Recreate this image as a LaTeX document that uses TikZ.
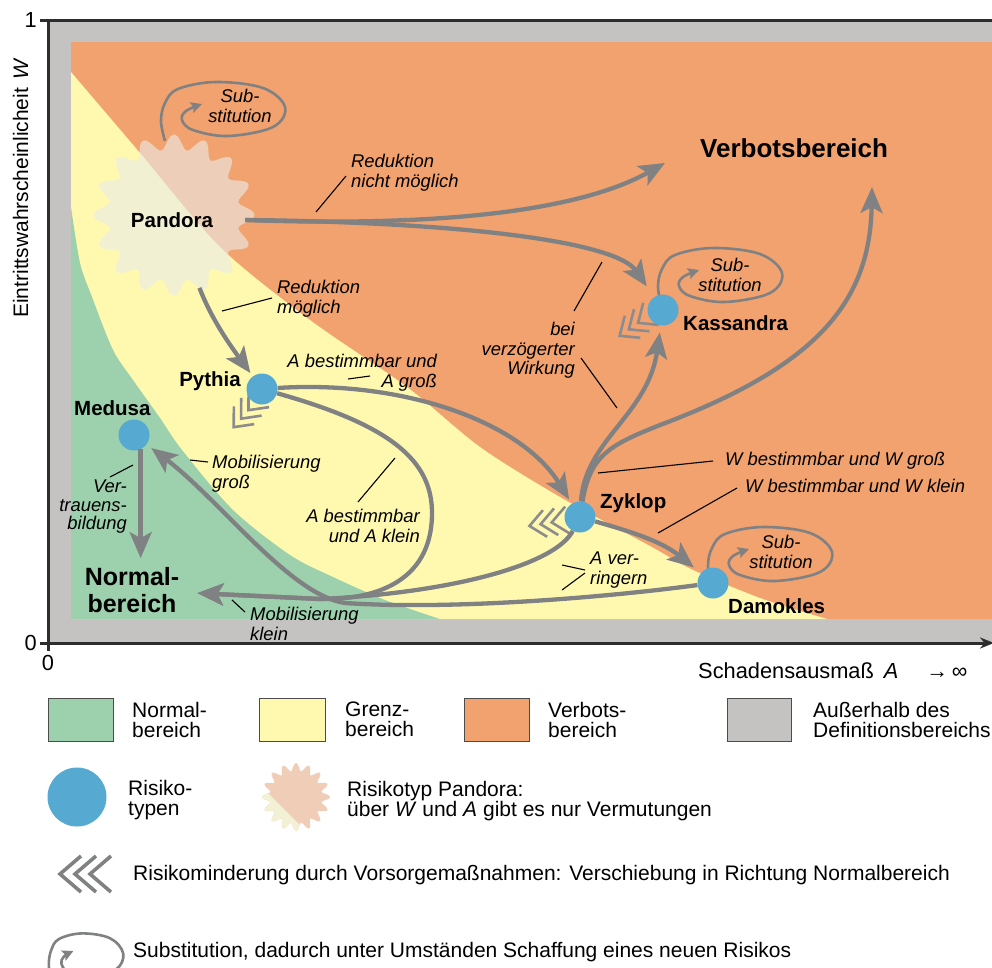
\documentclass[tikz,border=0pt]{standalone}
\usepackage{fontspec}
\setmainfont{Liberation Sans}
\usetikzlibrary{arrows.meta}
\definecolor{zoneorange}{RGB}{242,162,110}
\definecolor{zoneyellow}{RGB}{255,249,176}
\definecolor{zonegreen}{RGB}{157,208,172}
\definecolor{zonegrey}{RGB}{196,195,194}
\definecolor{riskblue}{RGB}{86,169,209}
\definecolor{flowgrey}{RGB}{128,129,131}
\definecolor{chevgrey}{RGB}{140,140,142}
\definecolor{axisdark}{RGB}{45,45,45}
\definecolor{starfill}{RGB}{235,235,232}
\definecolor{starorange}{RGB}{240,205,182}
\definecolor{staryellow}{RGB}{243,241,213}
\definecolor{stargreen}{RGB}{204,224,208}

\begin{document}
\begin{tikzpicture}[x=1pt,y=-1pt]
  \tikzset {
    risk/.style={circle, fill=riskblue, minimum size=31pt, inner sep=0pt},
    typename/.style={font=\bfseries\fontsize{20.5}{24}\selectfont, inner sep=0pt},
    region/.style={font=\bfseries\fontsize{25}{27}\selectfont, inner sep=0pt, align=center},
    note/.style={font=\itshape\fontsize{18.4}{19.5}\selectfont, inner sep=0pt},
    axislabel/.style={font=\fontsize{21.8}{24}\selectfont, inner sep=0pt},
    legendtext/.style={font=\fontsize{21}{20}\selectfont, inner sep=0pt, align=left},
    flow/.style={draw=flowgrey, line width=4.3pt, -{Stealth[length=26pt,width=22pt,inset=6pt]}},
    leader/.style={draw=black, line width=1.1pt},
    loopline/.style={draw=flowgrey, line width=2.6pt, -{Stealth[length=11pt,width=11pt,inset=2pt]}},
    swatch/.style={draw=black!70, line width=.8pt},
    chevrons/.pic={
      \foreach \i in {0,1,2}
        \draw[line join=miter] ({15*\i-4},-18) -- ({15*\i-25},0) -- ({15*\i-4},18);
    },
    substloop/.pic={
      \draw[loopline] plot[smooth, tension=.6] coordinates {(-58,32) (-62,12) (-58,-6) (-45,-20)
        (-7,-27) (40,-21) (62,-2) (50,18) (5,27) (-30,21) (-41,11) (-37,2) (-21,-5)};
    }
  }
  \useasboundingbox (0,0) rectangle (992,967);
  \clip (0,0) rectangle (992,967);

  \fill[zonegrey] (48,20) rectangle (992,643);
  \fill[zoneorange] (71,42) rectangle (992,619);
  \fill[zoneyellow] plot[smooth] coordinates {(71,72) (140,153) (220,247) (310,320) (407,387)
    (480,447) (560,497) (650,546) (693,570) (760,598) (827,619)} -- (71,619) -- cycle;
  \fill[zonegreen] plot[smooth] coordinates {(71,207) (80,263) (92,297) (113,350) (133,380)
    (160,418) (182,450) (233,510) (290,555) (333,577) (385,600) (440,619)} -- (71,619) -- cycle;

  \draw[axisdark, line width=3pt] (40,20) -- (992,20);
  \draw[axisdark, line width=3pt] (48,20) -- (48,651);
  \draw[axisdark, line width=3pt, -{Stealth[length=14pt,width=11pt]}] (40,643) -- (994,643);
  \node[axislabel, anchor=base east] (wone) at (37,27) {1};
  \node[axislabel, anchor=base east] (wzero) at (37,650) {0};
  \node[axislabel, anchor=base] (azero) at (48,670) {0};
  \node[axislabel, anchor=base west] (alabel) at (698,678) {Schadensausmaß\hspace{10pt}\textit{A}\hspace{28pt}→\,∞};
  \node[axislabel, font=\fontsize{21}{24}\selectfont, rotate=90, anchor=base west] (wlabel) at (28,318) {Eintrittswahrscheinlicheit\hspace{8pt}\textit{W}};

  \coordinate (pandoracenter) at (174,215);
  \pic at (223,109) {substloop};
  \fill[starfill, opacity=.62, shift={(pandoracenter)}] plot[domain=0:360, samples=161, smooth]
    ({(73+7.5*cos(16*\x))*cos(\x)}, {(73+7.5*cos(16*\x))*sin(\x)}) -- cycle;
  \node[typename, circle, minimum size=146pt] (pandora) at (172,220) {Pandora};

  \pic at (720,275) {substloop};
  \pic at (770,554) {substloop};
  \pic[color=chevgrey, line width=2.6pt, rotate=49, scale=.75] at (246,413) {chevrons};
  \pic[color=chevgrey, line width=2.6pt, rotate=35, scale=.75] at (635,325) {chevrons};
  \pic[color=chevgrey, line width=2.6pt, rotate=9, scale=.75] at (548,523) {chevrons};

  \node[risk] (pythia) at (262,389) {};
  \node[risk] (medusa) at (134,435) {};
  \node[risk] (kassandra) at (663,310) {};
  \node[risk] (zyklop) at (580,517) {};
  \node[risk] (damokles) at (713,583) {};

  \node[typename, anchor=base east] (pythialbl) at (241,386) {Pythia};
  \node[typename, anchor=base west] (medusalbl) at (74,415) {Medusa};
  \node[typename, anchor=base west] (kassandralbl) at (683,330) {Kassandra};
  \node[typename, anchor=base west] (zykloplbl) at (600,508) {Zyklop};
  \node[typename, anchor=base west] (damokleslbl) at (728,613) {Damokles};
  \node[region, font=\bfseries\fontsize{26}{28}\selectfont, anchor=base west] (verbots) at (700,157) {Verbotsbereich};
  \node[region] (normal) at (132,590) {Normal-\\bereich};

  \coordinate (verbotsin) at (665,163);
  \coordinate (verbotsup) at (872,187);

  \draw[flow, shorten >=4pt] (pandora.-68) .. controls (212,320) and (230,345) .. (pythia);
  \draw[flow] (pandora.east) .. controls (470,228) and (590,205) .. (verbotsin);
  \draw[flow, shorten >=13pt] (pandora.east) .. controls (450,222) and (615,240) .. (kassandra);
  \draw[flow, shorten >=5pt] (pythia) .. controls (400,380) and (520,420) .. (zyklop);
  \draw[flow, shorten >=18pt] (pythia) .. controls (390,425) and (432,460) .. (432,513)
    .. controls (432,585) and (370,600) .. (320,599) -- (normal);
  \draw[flow, shorten >=18pt] (zyklop) .. controls (555,565) and (450,593) .. (320,599) -- (normal);
  \draw[flow, shorten >=6pt] (damokles) .. controls (600,598) and (450,610) .. (345,603)
    .. controls (290,595) and (220,500) .. (medusa);
  \path (medusa.-65) edge[flow, shorten >=9pt] (medusa.-65 |- normal.north);
  \draw[flow, shorten >=9pt] (zyklop) .. controls (625,530) and (660,540) .. (damokles);
  \draw[flow, shorten >=7pt] (zyklop) .. controls (585,440) and (648,415) .. (kassandra);
  \draw[flow] (zyklop) .. controls (590,455) and (610,445) .. (660,425)
    .. controls (820,365) and (870,300) .. (verbotsup);

  \node[note, align=center, anchor=north] (substpandora) at (240,89) {Sub-\\stitution};
  \node[note, align=center, anchor=north] (substkassandra) at (730,258) {Sub-\\stitution};
  \node[note, align=center, anchor=north] (substdamokles) at (781,535) {Sub-\\stitution};
  \node[note, align=left, anchor=north west] (nichtlbl) at (351,154) {Reduktion\\nicht möglich};
  \node[note, align=left, anchor=north west] (moeglichlbl) at (277,280) {Reduktion\\möglich};
  \node[note, align=right, anchor=north east] (agrosslbl) at (437,354) {A bestimmbar und\\A groß};
  \node[note, align=right, anchor=north east] (akleinlbl) at (420,509) {A bestimmbar\\und A klein};
  \node[note, align=left, anchor=north west] (mobgrosslbl) at (212,455) {Mobilisierung\\groß};
  \node[note, align=left, anchor=north west] (mobkleinlbl) at (250,607) {Mobilisierung\\klein};
  \node[note, align=right, anchor=north east, font=\itshape\fontsize{18.4}{18.5}\selectfont] (vertrlbl) at (127,480) {Ver-\\trauens-\\bildung};
  \node[note, align=right, anchor=north east] (verzlbl) at (575,322) {bei\\verzögerter\\Wirkung};
  \node[note, anchor=north west] (wgrosslbl) at (725,452) {W bestimmbar und W groß};
  \node[note, anchor=north west] (wkleinlbl) at (745,479) {W bestimmbar und W klein};
  \node[note, align=left, anchor=north west] (verringernlbl) at (590,552) {A ver-\\ringern};

  \draw[leader] (316,212) -- (346,176);
  \draw[leader] (222,311) -- (272,298);
  \draw[leader] (348,379) -- (370,376);
  \draw[leader] (358,502) -- (395,458);
  \draw[leader] (190,460) -- (208,462);
  \draw[leader] (232,600) -- (245,612);
  \draw[leader] (110,477) -- (133,465);
  \draw[leader] (574,311) -- (602,262);
  \draw[leader] (581,358) -- (617,408);
  \draw[leader] (598,473) -- (713,461);
  \draw[leader] (658,533) -- (737,488);
  \draw[leader] (562,565) -- (585,570);
  \draw[leader] (562,590) -- (585,573);

  \draw[swatch, fill=zonegreen] (48,698) rectangle (113,741);
  \draw[swatch, fill=zoneyellow] (259,698) rectangle (325,741);
  \draw[swatch, fill=zoneorange] (464,698) rectangle (529,741);
  \draw[swatch, fill=zonegrey] (727,698) rectangle (791,741);
  \node[legendtext, anchor=north west] (lgnormal) at (132,702) {Normal-\\bereich};
  \node[legendtext, anchor=north west] (lggrenz) at (345,702) {Grenz-\\bereich};
  \node[legendtext, anchor=north west] (lgverbots) at (548,702) {Verbots-\\bereich};
  \node[legendtext, anchor=north west] (lgausser) at (813,702) {Außerhalb des\\Definitionsbereichs};

  \node[risk, minimum size=59pt] (lgrisk) at (77,797) {};
  \node[legendtext, anchor=north west] (lgrisktext) at (128,780) {Risiko-\\typen};
  \begin{scope}
    \clip[shift={(296,797)}] plot[domain=0:360, samples=161, smooth]
      ({(30+4*cos(16*\x))*cos(\x)}, {(30+4*cos(16*\x))*sin(\x)}) -- cycle;
    \fill[starorange] (255,755) rectangle (340,840);
    \fill[staryellow] (255,780) -- (320,845) -- (255,845) -- cycle;
    \fill[stargreen] (255,805) -- (295,845) -- (255,845) -- cycle;
  \end{scope}
  \node[legendtext, anchor=north west] (lgpandora) at (347,781) {Risikotyp Pandora:\\über \textit{W} und \textit{A} gibt es nur Vermutungen};

  \pic[color=flowgrey, line width=3.6pt] at (85,874) {chevrons};
  \node[legendtext, anchor=base west] (lgchevrons) at (133,880) {Risikominderung durch Vorsorgemaßnahmen: Verschiebung in Richtung Normalbereich};
  \pic[xscale=.6, yscale=.8] at (86,955) {substloop};
  \node[legendtext, anchor=base west] (lgsubst) at (133,957) {Substitution, dadurch unter Umständen Schaffung eines neuen Risikos};
\end{tikzpicture}
\end{document}
